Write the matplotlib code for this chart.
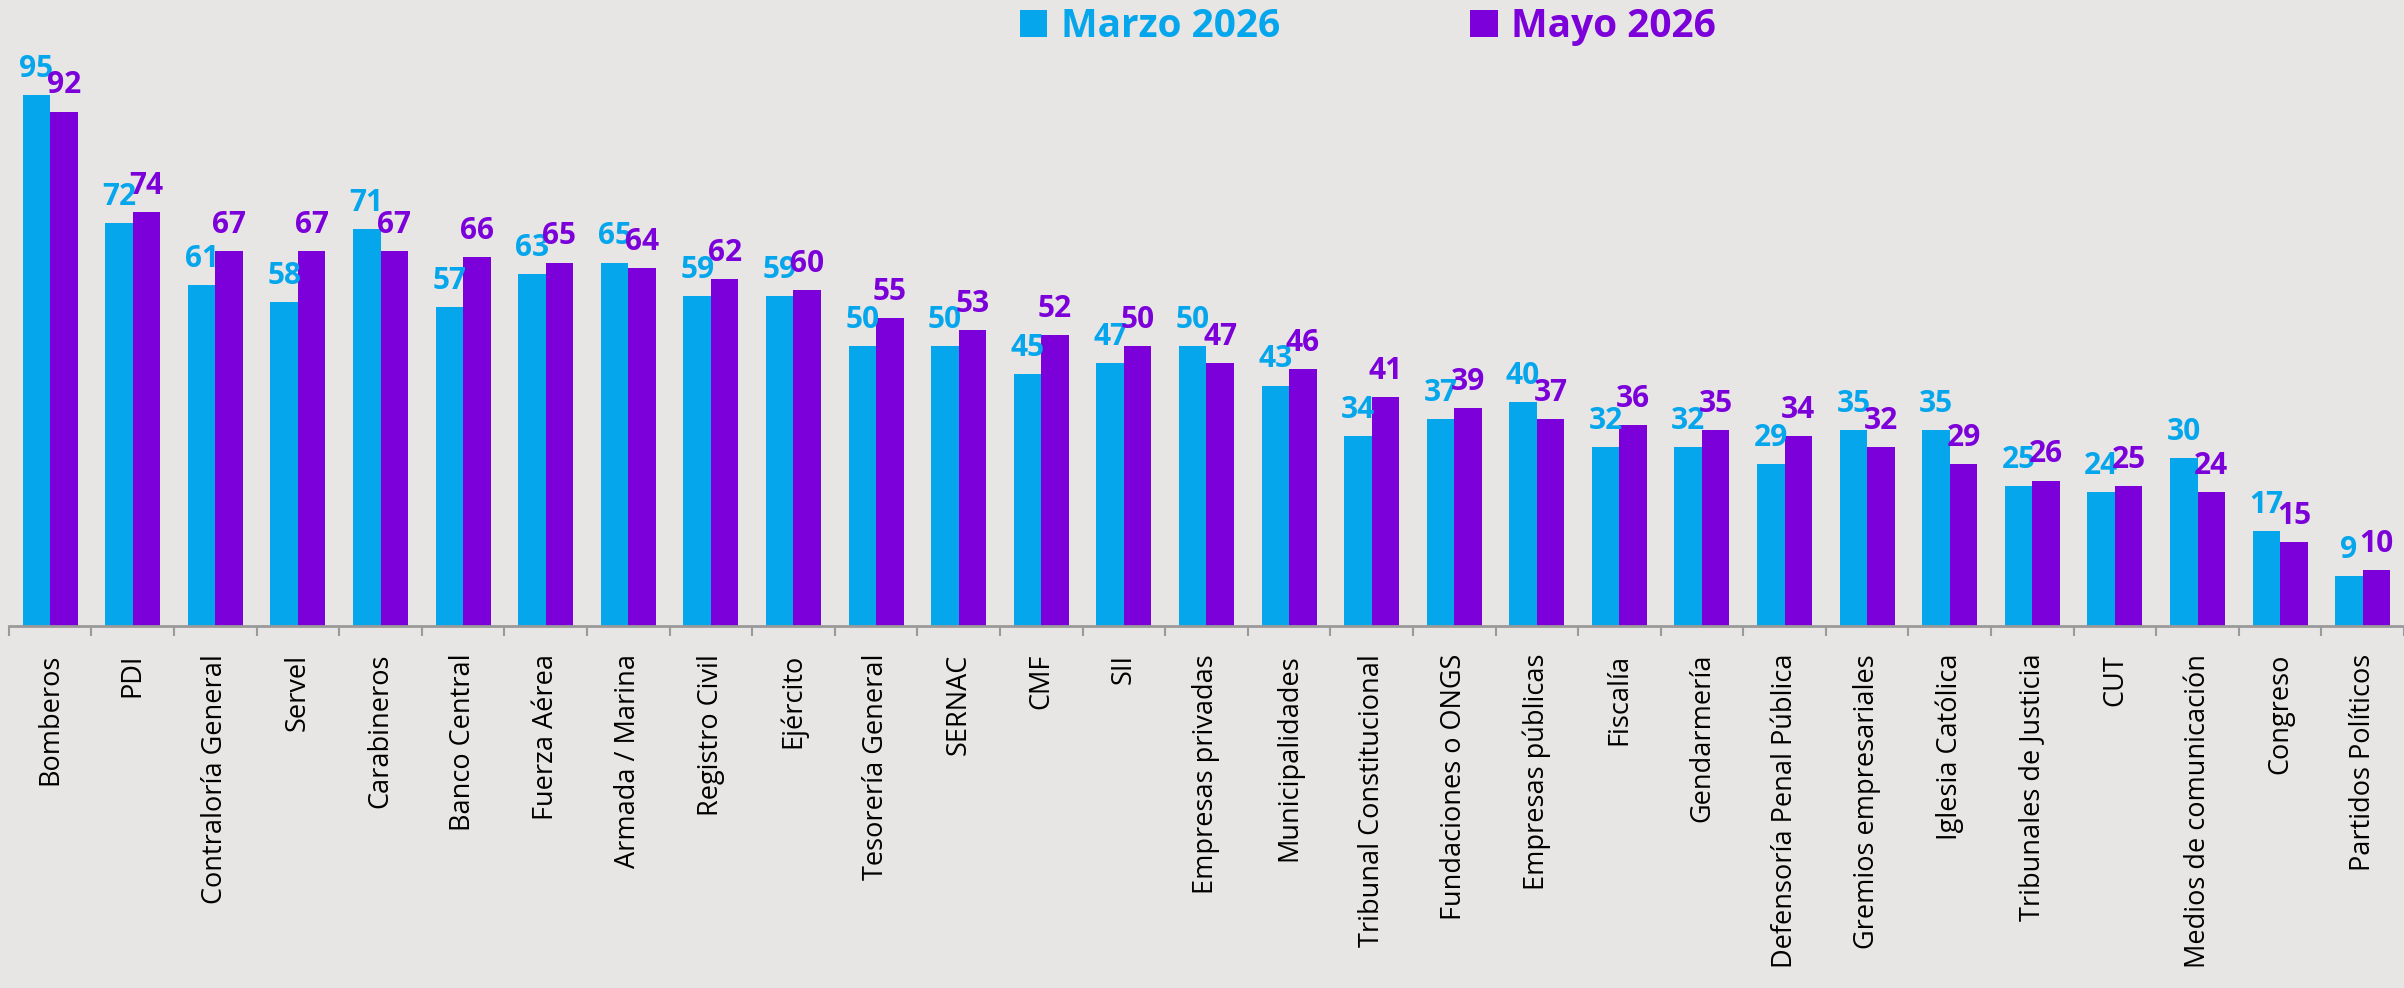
import matplotlib
matplotlib.use("Agg")
import matplotlib.pyplot as plt
import numpy as np

# Data
categorias = ["Bomberos", "PDI", "Contraloría General", "Servel", "Carabineros",
              "Banco Central", "Fuerza Aérea", "Armada / Marina", "Registro Civil",
              "Ejército", "Tesorería General", "SERNAC", "CMF", "SII",
              "Empresas privadas", "Municipalidades", "Tribunal Constitucional",
              "Fundaciones o ONGS", "Empresas públicas", "Fiscalía", "Gendarmería",
              "Defensoría Penal Pública", "Gremios empresariales", "Iglesia Católica",
              "Tribunales de Justicia", "CUT", "Medios de comunicación", "Congreso",
              "Partidos Políticos"]
marzo = [95, 72, 61, 58, 71, 57, 63, 65, 59, 59, 50, 50, 45, 47, 50, 43, 34, 37,
         40, 32, 32, 29, 35, 35, 25, 24, 30, 17, 9]
mayo = [92, 74, 67, 67, 67, 66, 65, 64, 62, 60, 55, 53, 52, 50, 47, 46, 41, 39,
        37, 36, 35, 34, 32, 29, 26, 25, 24, 15, 10]
series = ["Marzo 2026", "Mayo 2026"]

BG = "#E8E6E4"
AZUL = "#06A6EC"
MORADO = "#7B00D9"
GRIS = "#9A9A9A"
FONT = "Open Sans"

fig = plt.figure(figsize=(24.04, 9.88), dpi=100, facecolor=BG)
ax = fig.add_axes([0.0037, 0.3664, 0.9963, 0.566], facecolor=BG)

x = np.arange(len(categorias))
w = 0.333
b1 = ax.bar(x - w / 2, marzo, w, color=AZUL, label=series[0])
b2 = ax.bar(x + w / 2, mayo, w, color=MORADO, label=series[1])

# etiquetas de valor
for bars, vals, col in [(b1, marzo, AZUL), (b2, mayo, MORADO)]:
    for r, v in zip(bars, vals):
        ax.annotate(str(v), (r.get_x() + r.get_width() / 2, v), xytext=(0, 8),
                    textcoords="offset points", ha="center", va="bottom",
                    color=col, fontsize=21.5, fontweight="bold", family=FONT)

ax.set_xlim(-0.5, len(categorias) - 0.5)
ax.set_ylim(0, 100)
for s in ["top", "right", "left"]:
    ax.spines[s].set_visible(False)
ax.spines["bottom"].set_color(GRIS)
ax.spines["bottom"].set_linewidth(2)
ax.set_yticks([])

ax.set_xticks(x)
ax.set_xticklabels(categorias, rotation=90, fontsize=19.5, family=FONT, color="black")
ax.tick_params(axis="x", which="major", length=0, pad=20)
ax.set_xticks(np.arange(-0.5, len(categorias), 1), minor=True)
ax.tick_params(axis="x", which="minor", length=7, width=1.5, color=GRIS)

leg = fig.legend(handles=[b1, b2], labels=series, loc="center",
                 bbox_to_anchor=(0.569, 0.973), ncol=2, frameon=False,
                 labelcolor=[AZUL, MORADO],
                 prop={"family": FONT, "weight": "bold", "size": 28},
                 handlelength=0.7, handleheight=0.7, handletextpad=0.35,
                 columnspacing=4.9)

fig.savefig("out.png", dpi=100, facecolor=BG)
